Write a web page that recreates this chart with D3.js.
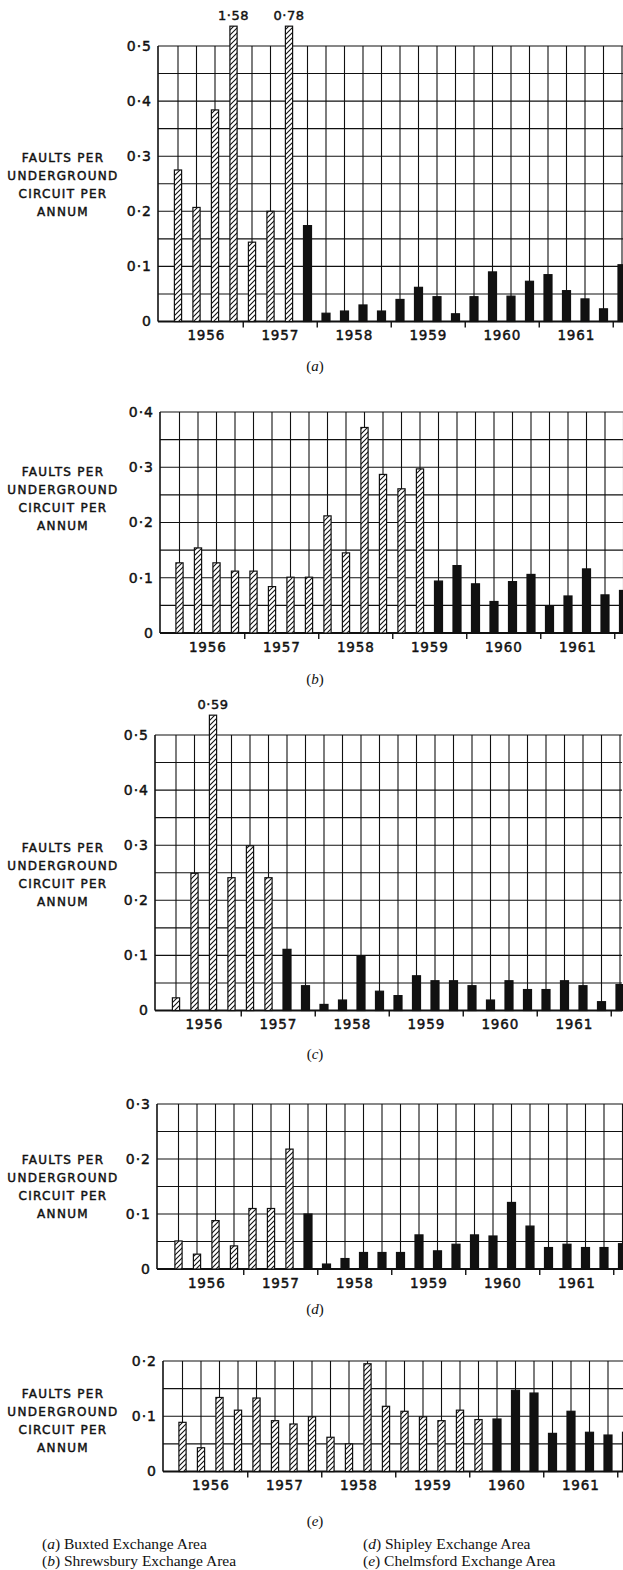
<!DOCTYPE html>
<html>
<head>
<meta charset="utf-8">
<script src="https://cdn.jsdelivr.net/npm/d3@7"></script>
<style>
    body { margin: 0; background: #fff; }
    svg { display: block; }
    .sans { font-family: "DejaVu Sans", sans-serif; fill: #111; stroke: #111; stroke-width: 0.45px; }
    .serif { font-family: "Liberation Serif", "Times New Roman", serif; fill: #111; }
</style>
</head>
<body>
<div id="chart"></div>
<script>

//******************************************************************************
//**  Data
//******************************************************************************
var years = ["1956", "1957", "1958", "1959", "1960", "1961"];

// quarterly slots, 1956 Q1 .. 1962 Q1
var quarters = [];
years.forEach(function(y){
    ["Q1", "Q2", "Q3", "Q4"].forEach(function(q){ quarters.push(y + " " + q); });
});
quarters.push("1962 Q1");

var buxted     = [0.275, 0.207, 0.384, 1.58, 0.144, 0.2, 0.78, 0.174, 0.015, 0.019, 0.03, 0.019, 0.04,
                  0.062, 0.045, 0.014, 0.045, 0.09, 0.046, 0.073, 0.085, 0.056, 0.041, 0.023, 0.103];
var shrewsbury = [0.127, 0.154, 0.127, 0.112, 0.112, 0.084, 0.101, 0.101, 0.212, 0.145, 0.372, 0.287, 0.261,
                  0.297, 0.094, 0.122, 0.089, 0.057, 0.093, 0.106, 0.049, 0.067, 0.116, 0.069, 0.077];
var areaC      = [0.023, 0.249, 0.59, 0.241, 0.299, 0.241, 0.111, 0.045, 0.011, 0.019, 0.099, 0.035, 0.027,
                  0.063, 0.054, 0.054, 0.045, 0.019, 0.054, 0.038, 0.038, 0.054, 0.045, 0.016, 0.047];
var shipley    = [0.051, 0.027, 0.088, 0.042, 0.11, 0.11, 0.218, 0.1, 0.009, 0.019, 0.03, 0.03, 0.03,
                  0.062, 0.033, 0.045, 0.062, 0.06, 0.121, 0.078, 0.039, 0.045, 0.039, 0.039, 0.046];
var chelmsford = [0.089, 0.043, 0.134, 0.111, 0.133, 0.092, 0.086, 0.099, 0.062, 0.05, 0.195, 0.118, 0.109,
                  0.099, 0.092, 0.111, 0.094, 0.095, 0.147, 0.142, 0.069, 0.109, 0.071, 0.066, 0.071];

var panelSeries  = [buxted, shrewsbury, areaC, shipley, chelmsford];
var hatchedCount = [7, 14, 6, 7, 17];      // leading bars drawn hatched
var yMaxes       = [0.5, 0.4, 0.5, 0.3, 0.2];
var panelLetters = ["a", "b", "c", "d", "e"];
var yTitle       = ["FAULTS PER", "UNDERGROUND", "CIRCUIT PER", "ANNUM"];
var legendLetters = ["a", "b", "d", "e"];
var legendNames   = ["Buxted Exchange Area", "Shrewsbury Exchange Area",
                     "Shipley Exchange Area", "Chelmsford Exchange Area"];


//******************************************************************************
//**  Layout (pixels)
//******************************************************************************
var STEP = 18.5;
var layout = [
    {x0: 158, x1: 178,   top: 46,   base: 321.5,  titleY: 157,  capY: 371},
    {x0: 160, x1: 179.5, top: 412,  base: 633,    titleY: 471,  capY: 684},
    {x0: 155, x1: 176,   top: 735,  base: 1010.5, titleY: 847,  capY: 1059},
    {x0: 157, x1: 178.5, top: 1104, base: 1269,   titleY: 1159, capY: 1314},
    {x0: 163, x1: 182.5, top: 1361, base: 1471.5, titleY: 1393, capY: 1526}
];

var svg = d3.select("#chart").append("svg")
    .attr("width", 623).attr("height", 1570);

svg.append("rect").attr("width", 623).attr("height", 1570).attr("fill", "#fff");

var pat = svg.append("defs").append("pattern")
    .attr("id", "hatch")
    .attr("patternUnits", "userSpaceOnUse")
    .attr("width", 5).attr("height", 5);
pat.append("rect").attr("width", 5).attr("height", 5).attr("fill", "#fff");
pat.append("path")
    .attr("d", "M-1,1 L1,-1 M0,5 L5,0 M4,6 L6,4")
    .attr("stroke", "#111").attr("stroke-width", 1.1);

var fmt = function(v){ return v === 0 ? "0" : d3.format(".1f")(v).replace(".", "\u00b7"); };


//**************************************************************************
//** drawPanel
//**************************************************************************
var drawPanel = function(p, idx){

    var values = panelSeries[idx];
    var yMax = yMaxes[idx];
    var nHatched = hatchedCount[idx];
    var g = svg.append("g");

    var x = d3.scaleLinear().domain([1, quarters.length]).range([p.x1, p.x1 + (quarters.length - 1) * STEP]);
    var y = d3.scaleLinear().domain([0, yMax]).range([p.base, p.top]);
    var right = x(quarters.length) + 2;

    // horizontal grid, every 0.05
    g.selectAll(".h").data(d3.range(0, Math.round(yMax / 0.05) + 1).map(function(k){ return k * 0.05; }))
        .enter().append("line")
        .attr("x1", p.x0).attr("x2", right)
        .attr("y1", function(d){ return y(d); }).attr("y2", function(d){ return y(d); })
        .attr("stroke", "#111")
        .attr("stroke-width", function(d, i){ return i === 0 ? 2 : 1.1; });

    // vertical grid, one per quarter
    g.selectAll(".v").data(d3.range(1, quarters.length + 1))
        .enter().append("line")
        .attr("x1", function(d){ return x(d); }).attr("x2", function(d){ return x(d); })
        .attr("y1", p.top).attr("y2", p.base)
        .attr("stroke", "#111").attr("stroke-width", 1.1);

    // left axis
    g.append("line")
        .attr("x1", p.x0).attr("x2", p.x0).attr("y1", p.top).attr("y2", p.base)
        .attr("stroke", "#111").attr("stroke-width", 1.6);

    // bars
    var cap = yMax + 0.036;
    g.selectAll(".bar").data(values)
        .enter().append("rect")
        .attr("x", function(d, k){ return x(k + 1) - (k < nHatched ? 3.6 : 4); })
        .attr("width", function(d, k){ return k < nHatched ? 7.2 : 8; })
        .attr("y", function(d){ return y(Math.min(d, cap)); })
        .attr("height", function(d){ return p.base - y(Math.min(d, cap)); })
        .attr("fill", function(d, k){ return k < nHatched ? "url(#hatch)" : "#111"; })
        .attr("stroke", "#111").attr("stroke-width", 1.2);

    // values of bars that run off the scale
    g.selectAll(".over").data(values.map(function(v, k){ return {v: v, k: k}; })
            .filter(function(d){ return d.v > cap; }))
        .enter().append("text")
        .attr("class", "sans")
        .attr("x", function(d){ return x(d.k + 1); })
        .attr("y", y(cap) - 6)
        .attr("text-anchor", "middle")
        .attr("font-size", "13px")
        .attr("letter-spacing", "0.5px")
        .text(function(d){ return d3.format(".2f")(d.v).replace(".", "\u00b7"); });

    // y axis labels
    var yAxis = d3.axisLeft(y)
        .tickValues(d3.range(0, Math.round(yMax * 10) + 1).map(function(k){ return k / 10; }))
        .tickSize(0).tickPadding(6)
        .tickFormat(fmt);
    var ya = g.append("g").attr("transform", "translate(" + p.x0 + ",0)").call(yAxis);
    ya.select(".domain").remove();
    ya.selectAll("text").attr("class", "sans").attr("font-size", "14px")
        .attr("letter-spacing", "1px").attr("font-family", null);

    // year ticks and labels
    var tickAxis = d3.axisBottom(x)
        .tickValues(years.map(function(yr, i){ return 4.5 + i * 4; }))
        .tickSize(6).tickFormat("");
    var ta = g.append("g").attr("transform", "translate(0," + p.base + ")").call(tickAxis);
    ta.select(".domain").remove();
    ta.selectAll("line").attr("stroke", "#111").attr("stroke-width", 1.4);

    var labAxis = d3.axisBottom(x)
        .tickValues(years.map(function(yr, i){ return 2.5 + i * 4; }))
        .tickSize(0).tickPadding(9)
        .tickFormat(function(d, i){ return years[i]; });
    var la = g.append("g").attr("transform", "translate(0," + p.base + ")").call(labAxis);
    la.select(".domain").remove();
    la.selectAll("text").attr("class", "sans").attr("font-size", "13.5px")
        .attr("letter-spacing", "0.8px").attr("font-family", null);

    // axis title
    g.append("text").attr("class", "sans")
        .attr("font-size", "12px").attr("letter-spacing", "1.3px")
        .attr("text-anchor", "middle")
        .selectAll("tspan").data(yTitle).enter().append("tspan")
        .attr("x", 63)
        .attr("y", function(d, i){ return p.titleY + 4.5 + i * 18.3; })
        .text(function(d){ return d; });

    // caption
    var cap1 = g.append("text").attr("class", "serif")
        .attr("x", 315).attr("y", p.capY).attr("text-anchor", "middle")
        .attr("font-size", "15px");
    cap1.append("tspan").text("(");
    cap1.append("tspan").attr("font-style", "italic").text(panelLetters[idx]);
    cap1.append("tspan").text(")");
};

layout.forEach(drawPanel);


//**************************************************************************
//** legend
//**************************************************************************
legendNames.forEach(function(name, i){
    var t = svg.append("text").attr("class", "serif")
        .attr("x", i < 2 ? 42 : 363)
        .attr("y", 1549 + (i % 2) * 17)
        .attr("font-size", "15.5px");
    t.append("tspan").text("(");
    t.append("tspan").attr("font-style", "italic").text(legendLetters[i]);
    t.append("tspan").text(") " + name);
});

</script>
</body>
</html>
